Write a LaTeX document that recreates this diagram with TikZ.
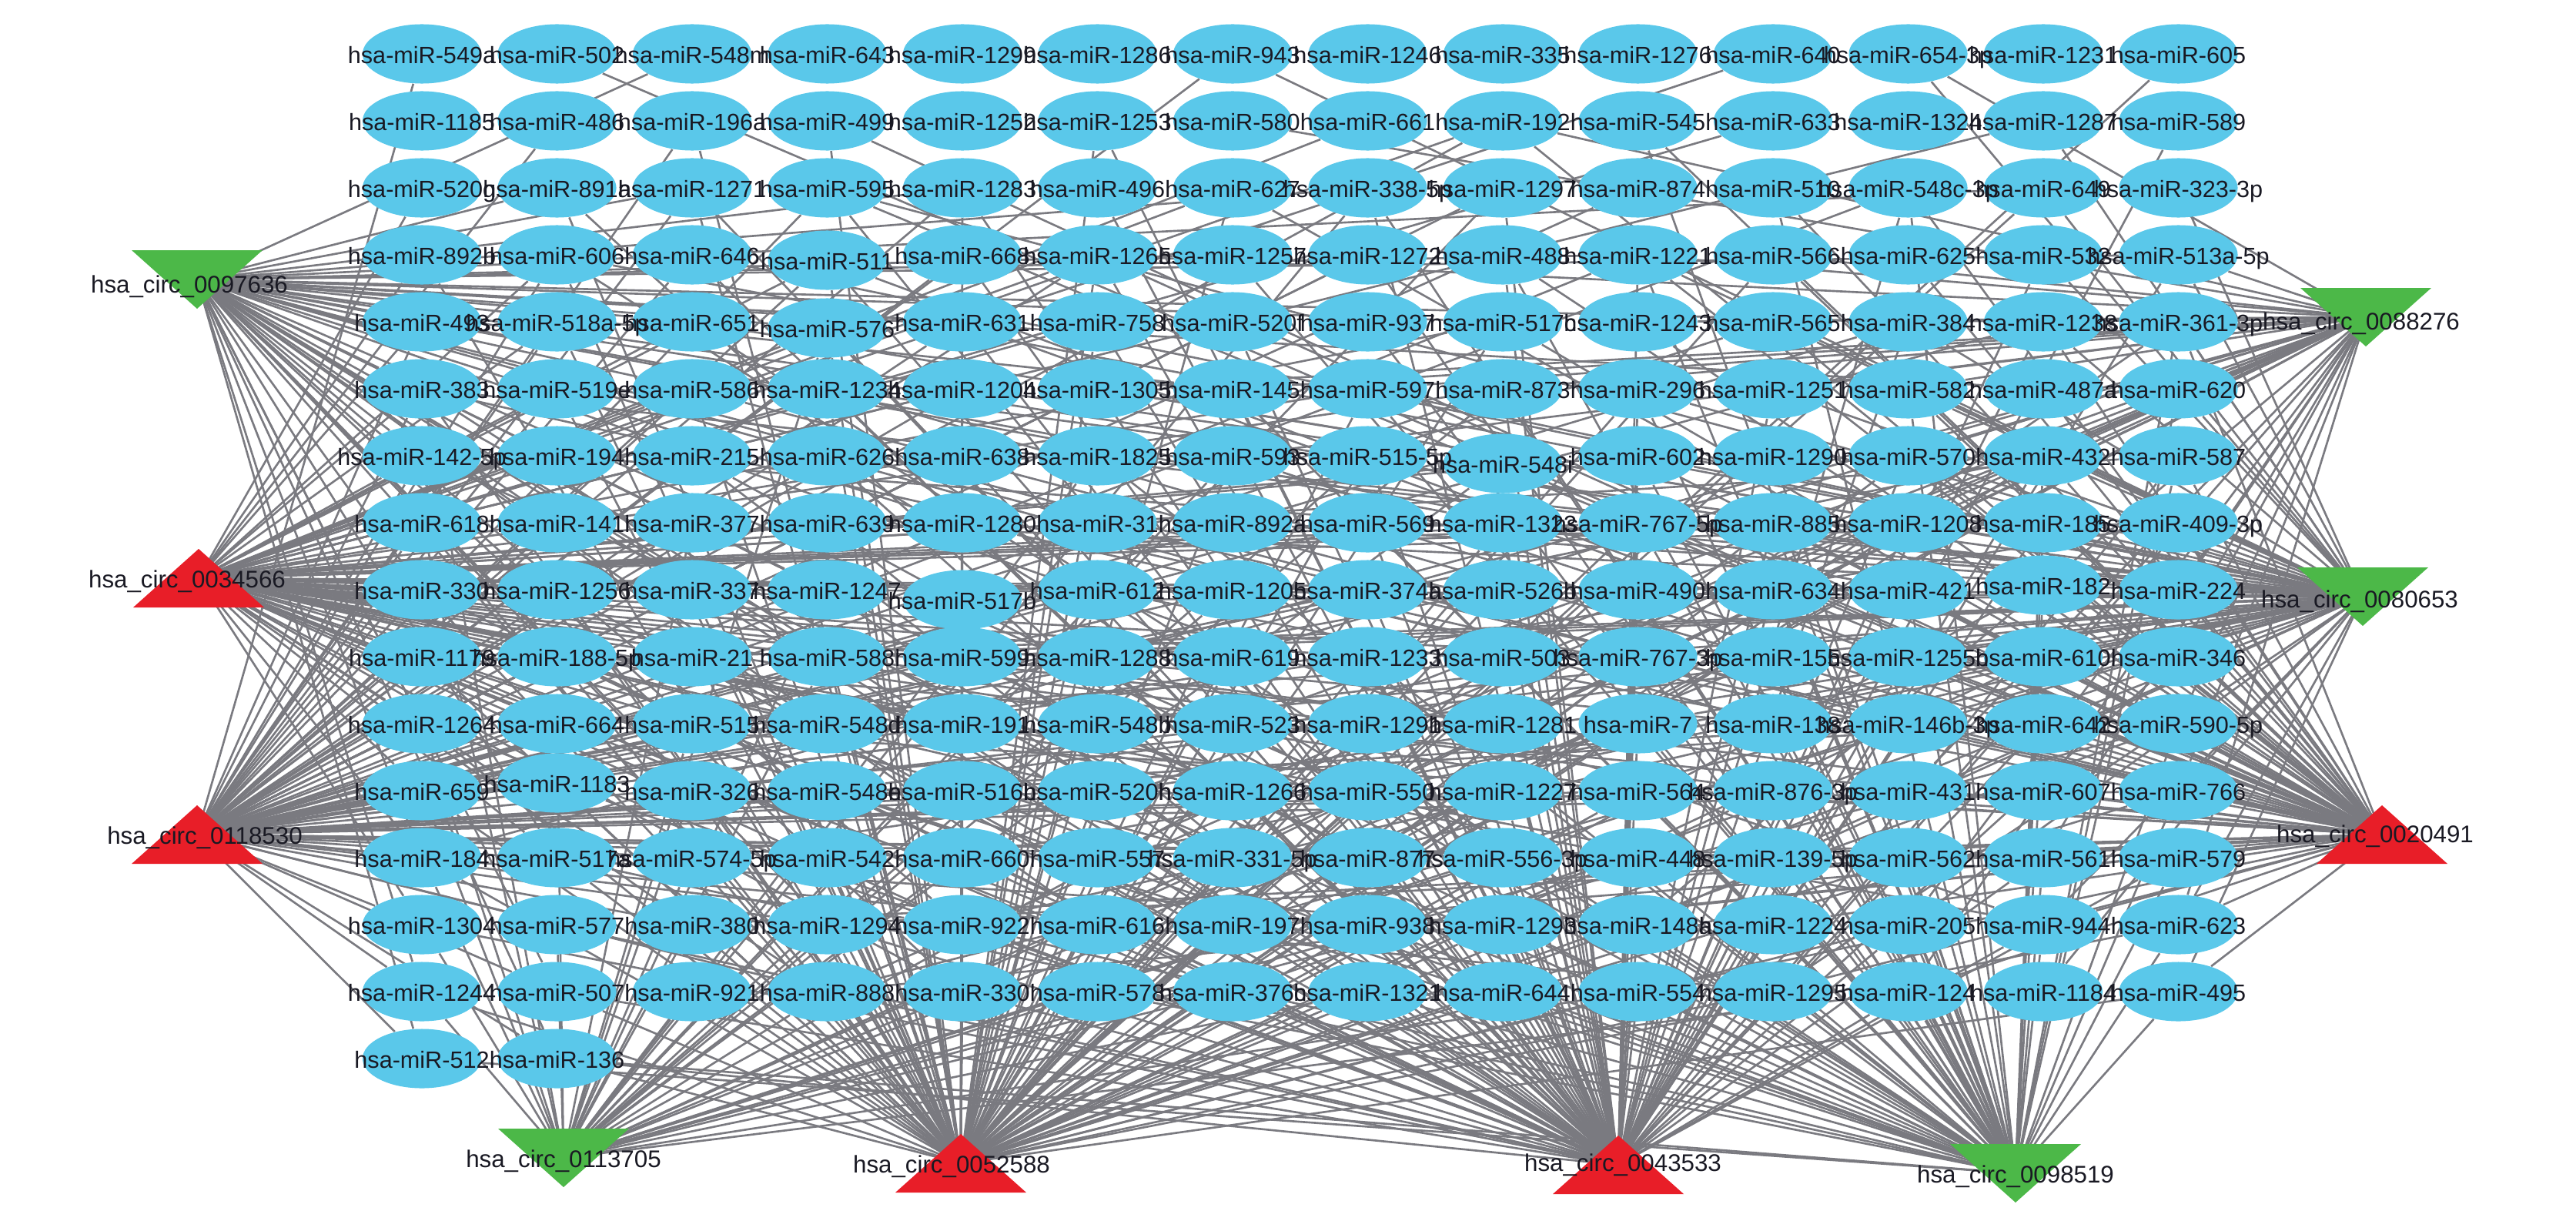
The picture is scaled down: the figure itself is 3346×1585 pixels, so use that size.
\documentclass[tikz,border=0pt]{standalone}
\usepackage{fontspec}
\setmainfont{Liberation Sans}
\usetikzlibrary{shapes.geometric}
\pgfdeclarelayer{edges}
\pgfdeclarelayer{front}
\pgfsetlayers{edges,main,front}
\definecolor{mirblue}{RGB}{90,200,234}
\definecolor{edgegray}{RGB}{122,122,128}
\definecolor{circred}{RGB}{232,30,40}
\definecolor{circgreen}{RGB}{76,184,72}
\definecolor{txtcol}{RGB}{25,25,35}
\tikzset{
  mir/.style={ellipse, fill=mirblue, minimum width=1.54cm, minimum height=0.77cm, inner sep=0pt},
  mirtxt/.style={inner sep=0pt, text=txtcol, font=\fontsize{8.7}{10}\selectfont, text height=1.55ex, text depth=0.25ex},
  circtxt/.style={inner sep=0pt, text=txtcol, font=\fontsize{8.9}{10}\selectfont, text height=1.55ex, text depth=0.25ex},
  edge/.style={draw=edgegray, line width=0.75pt},
  redtri/.style={fill=circred},
  greentri/.style={fill=circgreen}
}
% vertical offsets of a few displaced nodes
\expandafter\def\csname dy-4-4\endcsname{7}
\expandafter\def\csname dy-5-4\endcsname{8}
\expandafter\def\csname dy-7-9\endcsname{10}
\expandafter\def\csname dy-9-5\endcsname{13}
\expandafter\def\csname dy-9-13\endcsname{-6}
\expandafter\def\csname dy-12-2\endcsname{-10}
\newcommand\mirrow[2]{%
  \foreach \tt [count=\ci] in {#2}{%
    \pgfmathsetmacro\px{548+175.5*(\ci-1)}%
    \pgfmathsetmacro\py{70+87*(#1-1)}%
    \edef\ddy{\ifcsname dy-#1-\ci\endcsname\csname dy-#1-\ci\endcsname\else 0\fi}%
    \node[mir] (m-#1-\ci) at (\px,\py+\ddy) {};
    \begin{pgfonlayer}{front}
      \node[mirtxt] (t-#1-\ci) at (m-#1-\ci) {hsa-miR-\tt};
    \end{pgfonlayer}
  }%
}
\newcommand\redup[1]{\fill[redtri] ([shift={(0,-38)}]#1) -- ([shift={(85,38)}]#1) -- ([shift={(-85,38)}]#1) -- cycle;}
\newcommand\greendown[1]{\fill[greentri] ([shift={(0,38)}]#1) -- ([shift={(85,-38)}]#1) -- ([shift={(-85,-38)}]#1) -- cycle;}
\begin{document}
\begin{tikzpicture}[x=0.01cm,y=-0.01cm]
\useasboundingbox (0,0) rectangle (3346,1585);
\pgfmathsetseed{4321}
% miRNA grid
\mirrow{1}{549a,502,548m,643,1299,1286,943,1246,335,1276,640,654-3p,1231,605}
\mirrow{2}{1185,486,196a,499,1252,1253,580,661,192,545,633,1324,1287,589}
\mirrow{3}{520g,891a,1271,595,1283,496,627,338-5p,1297,874,510,548c-3p,649,323-3p}
\mirrow{4}{892b,606,646,511,668,1265,1257,1272,488,1221,566,625,532,513a-5p}
\mirrow{5}{493,518a-5p,651,576,631,758,520f,937,517c,1243,565,384,1238,361-3p}
\mirrow{6}{383,519e,586,1234,1204,1305,145,597,873,296,1251,582,487a,620}
\mirrow{7}{142-5p,194,215,626,638,1825,593,515-5p,548i,602,1290,570,432,587}
\mirrow{8}{618,141,377,639,1280,31,892a,569,1323,767-5p,885,1208,185,409-3p}
\mirrow{9}{330,1256,337,1247,517b,612,1205,374a,526b,490,634,421,182,224}
\mirrow{10}{1179,188-5p,21,588,599,1288,619,1233,503,767-3p,155,1255b,610,346}
\mirrow{11}{1264,664,515,548d,191,548b,523,1291,1281,7,138,146b-3p,642,590-5p}
\mirrow{12}{659,1183,326,548e,516b,520h,1266,550,1227,564,876-3p,431,607,766}
\mirrow{13}{184,517a,574-5p,542,660,557,331-5p,877,556-3p,448,139-5p,562,561,579}
\mirrow{14}{1304,577,380,1294,922,616,197,938,1293,148a,1224,205,944,623}
\mirrow{15}{1244,507,921,888,330,578,376c,1321,644,554,1295,124,1184,495}
\mirrow{16}{512,136}
% circRNA nodes
\coordinate (circA) at (256,363);
\coordinate (circB) at (258,751);
\coordinate (circC) at (256,1084);
\coordinate (circD) at (732,1504);
\coordinate (circE) at (1248,1511);
\coordinate (circF) at (2102,1513);
\coordinate (circG) at (2618,1524);
\coordinate (circH) at (3073,412);
\coordinate (circI) at (3069,775);
\coordinate (circJ) at (3094,1084);
\greendown{circA}
\redup{circB}
\redup{circC}
\greendown{circD}
\redup{circE}
\redup{circF}
\greendown{circG}
\greendown{circH}
\greendown{circI}
\redup{circJ}
\begin{pgfonlayer}{front}
\node[circtxt] (lA) at ([shift={(-10,5)}]circA) {hsa\_circ\_0097636};
\node[circtxt] (lB) at ([shift={(-15,0)}]circB) {hsa\_circ\_0034566};
\node[circtxt] (lC) at ([shift={(10,0)}]circC) {hsa\_circ\_0118530};
\node[circtxt] (lD) at (circD) {hsa\_circ\_0113705};
\node[circtxt] (lE) at ([shift={(-12,0)}]circE) {hsa\_circ\_0052588};
\node[circtxt] (lF) at ([shift={(6,-4)}]circF) {hsa\_circ\_0043533};
\node[circtxt] (lG) at (circG) {hsa\_circ\_0098519};
\node[circtxt] (lH) at ([shift={(-6,4)}]circH) {hsa\_circ\_0088276};
\node[circtxt] (lI) at ([shift={(-4,2)}]circI) {hsa\_circ\_0080653};
\node[circtxt] (lJ) at ([shift={(-9,-2)}]circJ) {hsa\_circ\_0020491};
\end{pgfonlayer}
% edges
\begin{pgfonlayer}{edges}
\fill[white] (0,0) rectangle (3346,1585);
\foreach \cc/\kx/\ky/\wt/\lam in {circA/256/363/0.85/1.1, circB/258/751/1.0/1.7, circC/256/1084/1.0/1.7, circD/732/1504/0.9/1.2, circE/1248/1511/1.0/1.7, circF/2102/1513/1.0/1.7, circG/2618/1524/0.9/1.2, circH/3073/412/0.8/1.0, circI/3069/775/0.9/1.2, circJ/3094/1084/1.0/1.7}{
  \foreach \ri in {1,...,16}{
    \foreach \ci in {1,...,14}{
      \pgfmathtruncatemacro\ok{(\ri<16)||(\ci<3)}
      \ifnum\ok=1
        \pgfmathsetmacro\dd{veclen((548+175.5*(\ci-1)-\kx)/1000,(70+87*(\ri-1)-\ky)/1000)}
        \pgfmathsetmacro\pr{\wt*exp(-\dd/\lam)*min(1,0.2+0.27*(\ri-1))}
        \pgfmathsetmacro\rv{rnd}
        \ifdim\rv pt<\pr pt\relax \draw[edge] (\cc) -- (m-\ri-\ci);\fi
      \fi
    }
  }
}
\end{pgfonlayer}
\end{tikzpicture}
\end{document}
